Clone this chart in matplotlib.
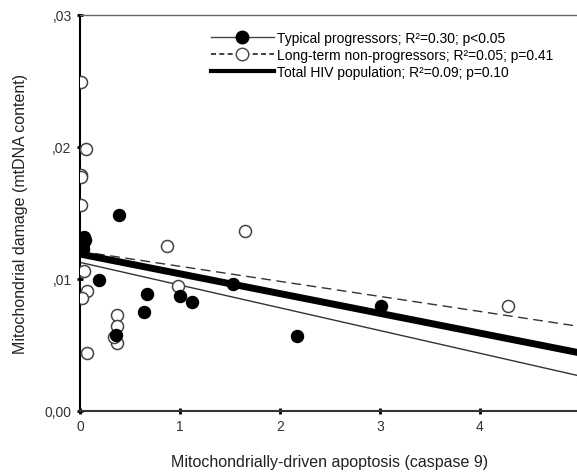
import numpy as np
import matplotlib.pyplot as plt
from matplotlib.lines import Line2D

plt.rcParams['font.family'] = ['Liberation Sans', 'DejaVu Sans']

# Typical progressors (filled circles)
tp_x = [0.39, 0.05, 0.04, 0.03, 0.03, 0.19, 0.67, 0.64, 0.36, 1.00, 1.12, 1.53, 2.17, 3.01]
tp_y = [0.01485, 0.01295, 0.01316, 0.01265, 0.0123, 0.00995, 0.00884, 0.00748, 0.00576,
        0.00869, 0.00828, 0.00962, 0.00570, 0.00793]

# Long-term non-progressors (open circles)
lt_x = [0.01, 0.06, 0.01, 0.01, 0.01, 0.04, 0.07, 0.02, 0.07, 0.37, 0.37, 0.37, 0.34,
        0.87, 1.65, 0.98, 4.28]
lt_y = [0.02495, 0.01985, 0.01790, 0.01770, 0.01563, 0.01063, 0.00911, 0.00856, 0.00439,
        0.00727, 0.00646, 0.00515, 0.00558, 0.01253, 0.01361, 0.00949, 0.00793]

# regression lines, read at x=0 and x=5
fit_x = [0, 5]
tp_fit = [0.01126, 0.00265]
lt_fit = [0.01210, 0.00640]
total_fit = [0.01189, 0.00440]

fig = plt.figure(figsize=(5.77, 4.77), dpi=100)
ax = fig.add_axes([0.1386, 0.1363, 0.8664, 0.8302])

ax.plot(fit_x, tp_fit, color='#333333', lw=1.0, zorder=2)
ax.plot(fit_x, lt_fit, color='#333333', lw=1.0, ls=(0, (7, 4)), zorder=2)
ax.plot(fit_x, total_fit, color='black', lw=5, zorder=2)

ax.scatter(lt_x, lt_y, s=75, facecolors='white', edgecolors='#444444', linewidths=1.1, zorder=3)
ax.scatter(tp_x, tp_y, s=75, color='black', zorder=4)

ax.set_xlim(0, 5)
ax.set_ylim(0, 0.03)
ax.set_xticks([0, 1, 2, 3, 4])
ax.set_yticks([0, 0.01, 0.02, 0.03])
ax.set_yticklabels(['0,00', ',01', ',02', ',03'])
ax.tick_params(direction='inout', length=5, width=2, labelsize=10, colors='black',
               labelcolor='#333333')

ax.spines['right'].set_visible(False)
ax.spines['top'].set_color('#666666')
ax.spines['top'].set_linewidth(1.0)
ax.spines['left'].set_linewidth(1.5)
ax.spines['bottom'].set_linewidth(1.5)
ax.spines['bottom'].set_color('#333333')

ax.set_xlabel('Mitochondrially-driven apoptosis (caspase 9)', fontsize=11.5,
              color='#222222', labelpad=15)
ax.set_ylabel('Mitochondrial damage (mtDNA content)', fontsize=11.5, color='#222222',
              labelpad=12)

handles = [
    Line2D([], [], color='#444444', lw=1.0, marker='o', markersize=9,
           markerfacecolor='black', markeredgecolor='black'),
    Line2D([], [], color='#222222', lw=1.2, ls=(0, (3, 2)), marker='o', markersize=9,
           markerfacecolor='white', markeredgecolor='#444444'),
    Line2D([], [], color='black', lw=3),
]
labels = ['Typical progressors; R²=0.30; p<0.05',
          'Long-term non-progressors; R²=0.05; p=0.41',
          'Total HIV population; R²=0.09; p=0.10']
ax.legend(handles, labels, loc='upper left', bbox_to_anchor=(0.25, 0.974), frameon=False,
          fontsize=10, handlelength=4.6, handletextpad=0.2, labelspacing=0.22,
          borderaxespad=0)

fig.savefig('out.png', dpi=100)
